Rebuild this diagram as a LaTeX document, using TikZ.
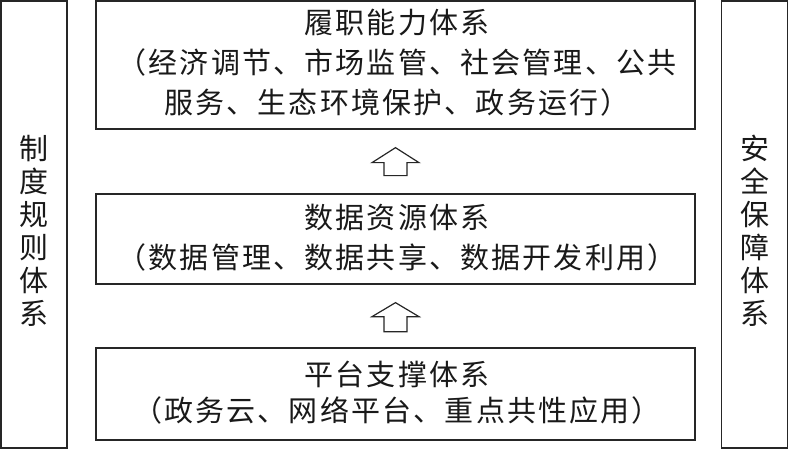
\documentclass[tikz,border=0pt]{standalone}
\usepackage{fontspec}
\usetikzlibrary{calc}
\newfontfamily\cjk{Noto Sans CJK SC}
\newfontfamily\cjkwide{Noto Sans CJK SC}[LetterSpace=7.5]
\begin{document}
\begin{tikzpicture}[x=1pt,y=-1pt,
  box/.style={draw=black!85,line width=1.3pt,fill=white,inner sep=0pt},
  txt/.style={font=\cjkwide\fontsize{29}{40}\selectfont,align=center,inner sep=0pt,text=black!90},
  side/.style={font=\cjk\fontsize{29}{33}\selectfont,align=center,inner sep=0pt,text=black!90},
  uparrow/.style={draw=black!85,line width=1.2pt,fill=white,line join=miter}]
\useasboundingbox (0,0) rectangle (789,449);
% side boxes
\node[box,minimum width=66pt,minimum height=447pt] (L) at (34,224.5) {};
\node[box,minimum width=66pt,minimum height=447pt] (R) at (754.5,224.5) {};
\node[side] (Lt) at (34,231) {制\\度\\规\\则\\体\\系};
\node[side] (Rt) at (754.5,231) {安\\全\\保\\障\\体\\系};
% main boxes
\node[box,minimum width=599pt,minimum height=128pt] (T) at (395.5,65) {};
\node[box,minimum width=599pt,minimum height=90pt] (M) at (395.5,239) {};
\node[box,minimum width=599pt,minimum height=92pt] (B) at (395.5,394) {};
\node[txt] (Tt) at (397,63) {履职能力体系\\（经济调节、市场监管、社会管理、公共\\服务、生态环境保护、政务运行）};
\node[txt] (Mt) at (397,238) {数据资源体系\\（数据管理、数据共享、数据开发利用）};
\node[txt,font=\cjkwide\fontsize{29}{36}\selectfont] (Bt) at (397,393) {平台支撑体系\\（政务云、网络平台、重点共性应用）};
% hollow arrows
\draw[uparrow] ($(T.south)+(0,18)$) coordinate (a1) -- ++(23.5,15) -- ++(-12,0) -- ++(0,13) -- ++(-23,0) -- ++(0,-13) -- ++(-12,0) -- cycle;
\draw[uparrow] ($(M.south)+(0,18)$) coordinate (a2) -- ++(23.5,14) -- ++(-12,0) -- ++(0,15) -- ++(-23,0) -- ++(0,-15) -- ++(-12,0) -- cycle;
\end{tikzpicture}
\end{document}
